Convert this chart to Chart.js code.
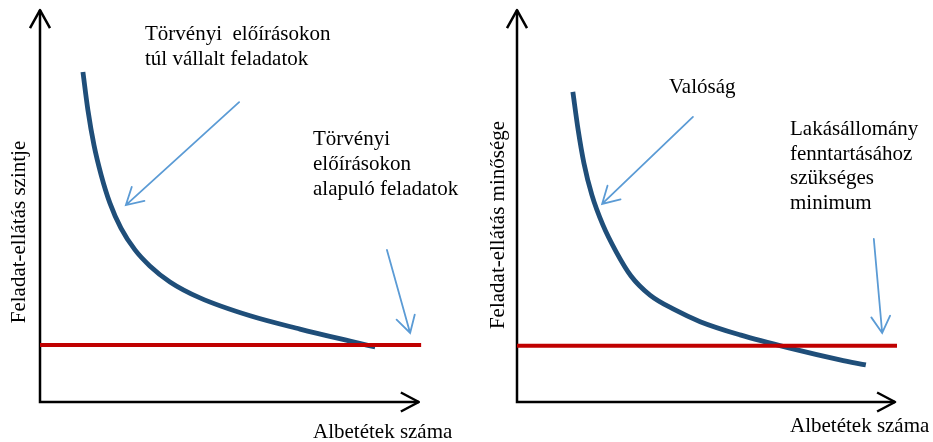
<!DOCTYPE html>
<html>
<head>
<meta charset="utf-8">
<script src="https://cdn.jsdelivr.net/npm/chart.js@4.4.1/dist/chart.umd.min.js"></script>
<style>
  html, body { margin: 0; padding: 0; background: #ffffff; }
  #wrap { position: relative; width: 933px; height: 442px; overflow: hidden; background: #fff; }
  #leftBox { position: absolute; left: 0; top: 0; width: 466px; height: 442px; }
  #rightBox { position: absolute; left: 466px; top: 0; width: 467px; height: 442px; }
</style>
</head>
<body>
<div id="wrap">
  <div id="leftBox"><canvas id="leftChart" width="466" height="442"></canvas></div>
  <div id="rightBox"><canvas id="rightChart" width="467" height="442"></canvas></div>
</div>
<script>
// ---------- data ----------
const xAxisTitle = 'Albetétek száma';
const leftYAxisTitle = 'Feladat-ellátás szintje';
const rightYAxisTitle = 'Feladat-ellátás minősége';

// Left panel: task level vs. number of units
const leftCurveX = [1.13, 1.26, 1.42, 1.61, 1.84, 2.13, 2.50, 2.89, 3.42, 4.21, 5.53, 6.84, 8.16, 8.82];
const leftCurveY = [8.46, 7.49, 6.59, 5.82, 5.10, 4.46, 3.90, 3.49, 3.08, 2.67, 2.21, 1.87, 1.56, 1.41];
const leftMinX = [0, 10.03];
const leftMinY = [1.46, 1.46];

// Right panel: quality vs. number of units
const rightCurveX = [1.47, 1.61, 1.76, 1.97, 2.26, 2.61, 3.00, 3.50, 4.16, 4.82, 5.87, 7.18, 8.50, 9.18];
const rightCurveY = [7.95, 6.97, 6.13, 5.31, 4.54, 3.85, 3.23, 2.74, 2.36, 2.06, 1.72, 1.38, 1.08, 0.95];
const rightMinX = [0, 10.0];
const rightMinY = [1.44, 1.44];

// Callout arrows: [fromX, fromY, toX, toY]
const leftArrows = [[5.24, 7.69, 2.26, 5.05], [9.13, 3.90, 9.74, 1.77]];
const rightArrows = [[4.63, 7.31, 2.24, 5.08], [9.39, 4.18, 9.61, 1.77]];

// Annotation texts
const leftNoteTop = ['Törvényi  előírásokon', 'túl vállalt feladatok'];
const leftNoteRight = ['Törvényi', 'előírásokon', 'alapuló feladatok'];
const rightNoteTop = ['Valóság'];
const rightNoteRight = ['Lakásállomány', 'fenntartásához', 'szükséges', 'minimum'];

// ---------- helpers ----------
const zip = (xs, ys) => xs.map((x, i) => ({ x: x, y: ys[i] }));
const FONT = '21px "Liberation Serif", "Times New Roman", serif';

const diagramPlugin = {
  id: 'diagram',
  beforeDatasetsDraw(chart, args, opts) {
    const { ctx, scales: { x, y } } = chart;
    const ox = x.getPixelForValue(0), oy = y.getPixelForValue(0);
    const xe = x.getPixelForValue(opts.xEnd), ye = y.getPixelForValue(opts.yEnd);
    ctx.save();
    ctx.strokeStyle = '#000';
    ctx.lineWidth = 2.5;
    ctx.lineCap = 'butt';
    ctx.lineJoin = 'miter';
    ctx.beginPath();
    ctx.moveTo(ox, oy + 1.2); ctx.lineTo(ox, ye);
    ctx.moveTo(ox - 1.2, oy); ctx.lineTo(xe, oy);
    ctx.stroke();
    ctx.lineJoin = 'round';
    ctx.beginPath();
    ctx.moveTo(ox - 10, ye + 18); ctx.lineTo(ox, ye); ctx.lineTo(ox + 10, ye + 18);
    ctx.moveTo(xe - 18, oy - 9.5); ctx.lineTo(xe, oy); ctx.lineTo(xe - 18, oy + 9.5);
    ctx.stroke();
    ctx.restore();
  },
  afterDatasetsDraw(chart, args, opts) {
    const { ctx, scales: { x, y } } = chart;
    ctx.save();
    // callout arrows
    ctx.strokeStyle = '#5B9BD5';
    ctx.lineWidth = 1.8;
    ctx.lineCap = 'round';
    opts.arrows.forEach(a => {
      const x1 = x.getPixelForValue(a[0]), y1 = y.getPixelForValue(a[1]);
      const x2 = x.getPixelForValue(a[2]), y2 = y.getPixelForValue(a[3]);
      const ang = Math.atan2(y1 - y2, x1 - x2);
      const L = 19, sp = 0.52;
      ctx.beginPath();
      ctx.moveTo(x1, y1); ctx.lineTo(x2, y2);
      ctx.moveTo(x2 + L * Math.cos(ang + sp), y2 + L * Math.sin(ang + sp));
      ctx.lineTo(x2, y2);
      ctx.lineTo(x2 + L * Math.cos(ang - sp), y2 + L * Math.sin(ang - sp));
      ctx.stroke();
    });
    // notes
    ctx.fillStyle = '#000';
    ctx.font = FONT;
    ctx.textAlign = 'left';
    ctx.textBaseline = 'alphabetic';
    opts.notes.forEach(n => {
      n.lines.forEach((t, i) => ctx.fillText(t, n.x, n.y + i * n.lh));
    });
    // axis titles
    ctx.fillText(opts.xTitle.text, opts.xTitle.x, opts.xTitle.y);
    ctx.translate(opts.yTitle.x, opts.yTitle.y);
    ctx.rotate(-Math.PI / 2);
    ctx.textAlign = 'center';
    ctx.fillText(opts.yTitle.text, 0, 0);
    ctx.restore();
  }
};

function makeChart(id, curveX, curveY, minX, minY, pad, pluginOpts) {
  return new Chart(document.getElementById(id), {
    type: 'scatter',
    data: {
      datasets: [
        {
          label: 'minimum',
          data: zip(minX, minY),
          showLine: true,
          borderColor: '#C00000',
          borderWidth: 4,
          pointRadius: 0,
          clip: false
        },
        {
          label: 'curve',
          data: zip(curveX, curveY),
          showLine: true,
          borderColor: '#1F4E79',
          borderWidth: 4.8,
          pointRadius: 0,
          cubicInterpolationMode: 'monotone',
          borderCapStyle: 'butt',
          clip: false
        }
      ]
    },
    options: {
      responsive: false,
      animation: false,
      devicePixelRatio: 1,
      layout: { padding: pad },
      scales: {
        x: { type: 'linear', min: 0, max: 10, display: false },
        y: { type: 'linear', min: 0, max: 10, display: false }
      },
      plugins: {
        legend: { display: false },
        tooltip: { enabled: false },
        diagram: pluginOpts
      }
    },
    plugins: [diagramPlugin]
  });
}

makeChart('leftChart', leftCurveX, leftCurveY, leftMinX, leftMinY,
  { left: 40, right: 46, top: 12, bottom: 40 },
  {
    xEnd: 9.97, yEnd: 10.05,
    arrows: leftArrows,
    notes: [
      { lines: leftNoteTop, x: 145, y: 40, lh: 25 },
      { lines: leftNoteRight, x: 313, y: 145, lh: 25 }
    ],
    xTitle: { text: xAxisTitle, x: 313, y: 438 },
    yTitle: { text: leftYAxisTitle, x: 25, y: 232 }
  });

makeChart('rightChart', rightCurveX, rightCurveY, rightMinX, rightMinY,
  { left: 51, right: 36, top: 12, bottom: 40 },
  {
    xEnd: 9.95, yEnd: 10.05,
    arrows: rightArrows,
    notes: [
      { lines: rightNoteTop, x: 203, y: 93, lh: 25 },
      { lines: rightNoteRight, x: 324, y: 135, lh: 24.5 }
    ],
    xTitle: { text: xAxisTitle, x: 324, y: 432 },
    yTitle: { text: rightYAxisTitle, x: 38, y: 225 }
  });
</script>
</body>
</html>
